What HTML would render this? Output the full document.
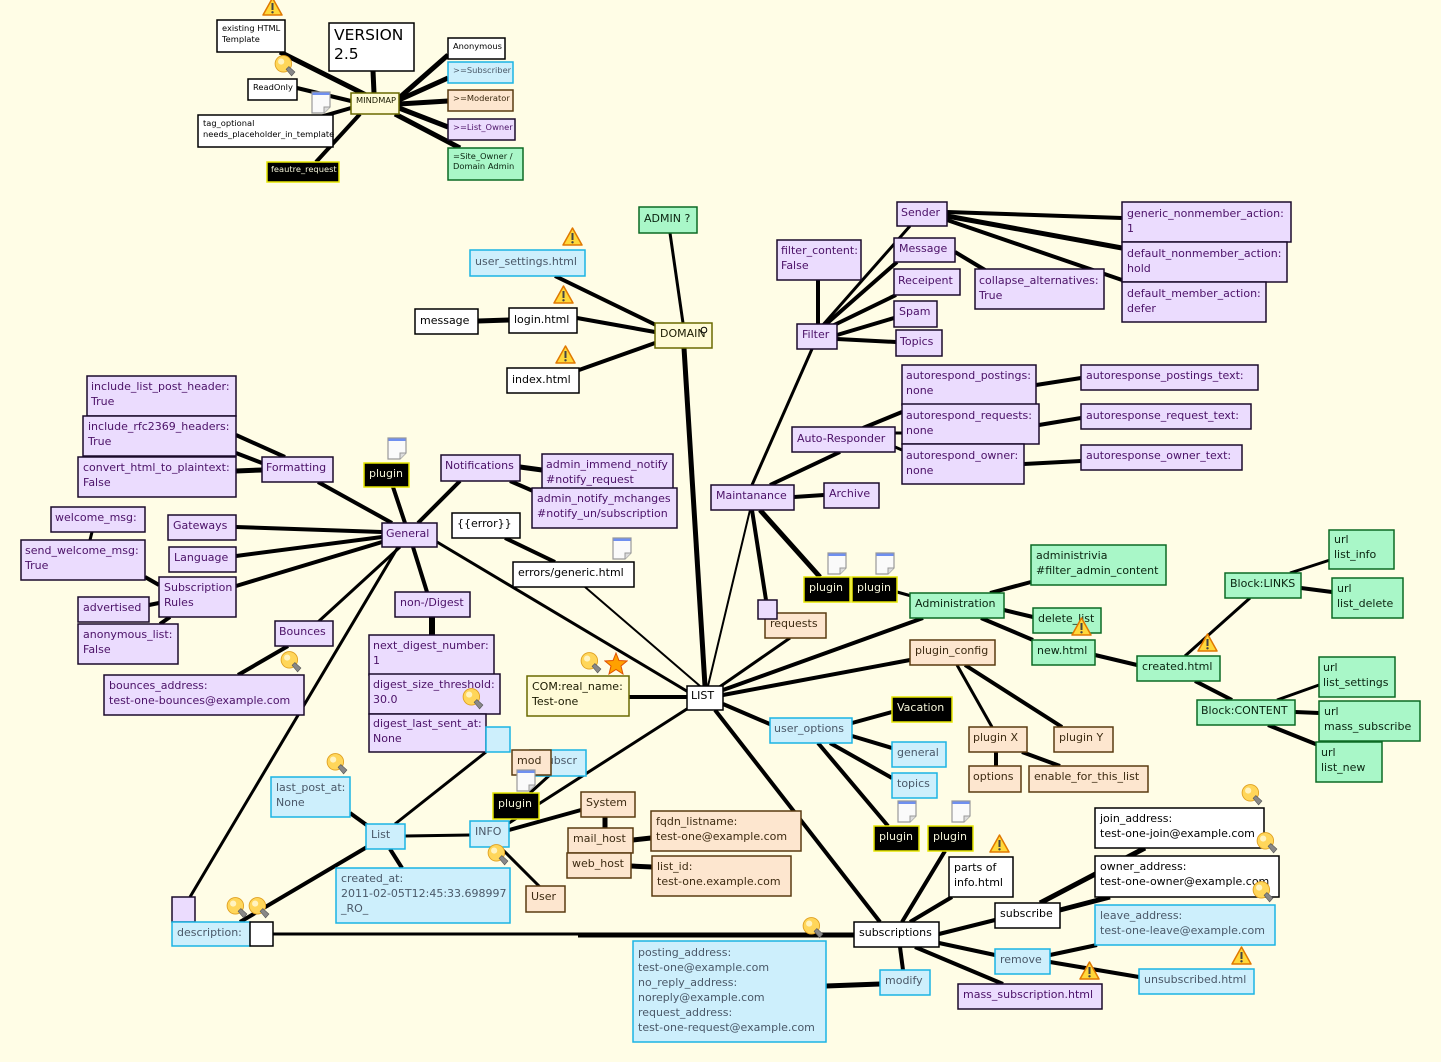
<!DOCTYPE html>
<html><head><meta charset="utf-8">
<style>
html,body{margin:0;padding:0;background:#fffde6;}
svg{display:block;}
text{font-family:"DejaVu Sans","Liberation Sans",sans-serif;font-size:11px;}
.s{font-size:8.3px;}
rect{stroke-width:1.5;}
.w{fill:#fff;stroke:#000;}
.p{fill:#ebdcfe;stroke:#1b0b2b;}
.c{fill:#cdeffc;stroke:#1bb4e4;}
.o{fill:#fde6cf;stroke:#5a3b10;}
.g{fill:#a9f7c8;stroke:#0c6a24;}
.y{fill:#fffbd7;stroke:#6a6a00;}
.b{fill:#000;stroke:#e6e600;}
.tw{fill:#000;}
.tp{fill:#4b1167;}
.tc{fill:#4a5868;}
.to{fill:#3d2b12;}
.tg{fill:#0a2410;}
.ty{fill:#1a1a00;}
.tb{fill:#f4f4d8;}
line{stroke:#000;stroke-linecap:butt;}
</style></head>
<body>
<svg width="1441" height="1062" viewBox="0 0 1441 1062" xmlns="http://www.w3.org/2000/svg">
<defs>
<symbol id="warn" viewBox="0 0 21 19"><polygon points="10.5,1 20,18 1,18" fill="#ffd83a" stroke="#e07800" stroke-width="1.5" stroke-linejoin="round"/><rect x="9.5" y="6" width="2" height="7" fill="#444"/><circle cx="10.5" cy="15.3" r="1.2" fill="#444"/></symbol>
<symbol id="bulb" viewBox="0 0 20 20"><ellipse cx="8.5" cy="8" rx="7.5" ry="7.5" fill="#ffd65a" stroke="#e0a020" stroke-width="0.8"/><circle cx="6.5" cy="6" r="2.8" fill="#fff3c0"/><polygon points="11,13 13.5,10.5 19,15.5 16,19" fill="#888" stroke="#555" stroke-width="0.6"/></symbol>
<symbol id="note" viewBox="0 0 20 23"><path d="M1,1 H19 V16 L13,22 H1 Z" fill="#fafafa" stroke="#999" stroke-width="1.2"/><rect x="1.5" y="1.5" width="17" height="2.5" fill="#6f8ff0"/><path d="M19,16 L13,16 L13,22" fill="#ddd" stroke="#999" stroke-width="1"/></symbol>
<symbol id="star" viewBox="0 0 24 23"><polygon points="12,1 15,8.5 23,9 17,14 19,22 12,17.5 5,22 7,14 1,9 9,8.5" fill="#ffa000" stroke="#e05000" stroke-width="1"/></symbol>
</defs>
<rect x="0" y="0" width="1441" height="1062" fill="#fffde6"/>

<!-- EDGES -->
<g>
<line x1="372" y1="98" x2="280" y2="52" stroke-width="5"/>
<line x1="374" y1="93" x2="373" y2="71" stroke-width="5"/>
<line x1="351" y1="101" x2="297" y2="88" stroke-width="4"/>
<line x1="351" y1="108" x2="320" y2="117" stroke-width="4"/>
<line x1="360" y1="114" x2="316" y2="162" stroke-width="4"/>
<line x1="399" y1="98" x2="448" y2="55" stroke-width="5"/>
<line x1="399" y1="100" x2="448" y2="78" stroke-width="5"/>
<line x1="399" y1="104" x2="448" y2="101" stroke-width="5"/>
<line x1="399" y1="108" x2="448" y2="127" stroke-width="5"/>
<line x1="395" y1="114" x2="460" y2="148" stroke-width="5"/>

<line x1="555" y1="276" x2="658" y2="326" stroke-width="4"/>
<line x1="478" y1="321" x2="509" y2="320" stroke-width="5"/>
<line x1="577" y1="318" x2="655" y2="332" stroke-width="4"/>
<line x1="579" y1="370" x2="655" y2="343" stroke-width="4"/>
<line x1="670" y1="233" x2="683" y2="323" stroke-width="3"/>
<line x1="684" y1="348" x2="705" y2="686" stroke-width="5"/>

<line x1="947" y1="212" x2="1122" y2="218" stroke-width="4"/>
<line x1="947" y1="216" x2="1122" y2="248" stroke-width="5"/>
<line x1="947" y1="220" x2="1122" y2="280" stroke-width="4"/>
<line x1="955" y1="252" x2="985" y2="270" stroke-width="4"/>
<line x1="818" y1="325" x2="818" y2="280" stroke-width="4"/>
<line x1="822" y1="326" x2="910" y2="226" stroke-width="3"/>
<line x1="824" y1="326" x2="897" y2="262" stroke-width="4"/>
<line x1="828" y1="328" x2="896" y2="295" stroke-width="4"/>
<line x1="837" y1="335" x2="894" y2="318" stroke-width="4"/>
<line x1="837" y1="339" x2="896" y2="342" stroke-width="4"/>
<line x1="812" y1="349" x2="752" y2="485" stroke-width="3"/>

<line x1="1036" y1="385" x2="1081" y2="378" stroke-width="4"/>
<line x1="1039" y1="425" x2="1081" y2="418" stroke-width="4"/>
<line x1="1024" y1="464" x2="1081" y2="461" stroke-width="4"/>
<line x1="863" y1="428" x2="902" y2="412" stroke-width="4"/>
<line x1="895" y1="433" x2="902" y2="433" stroke-width="3"/>
<line x1="895" y1="447" x2="902" y2="450" stroke-width="3"/>
<line x1="770" y1="485" x2="840" y2="452" stroke-width="4"/>
<line x1="794" y1="497" x2="824" y2="495" stroke-width="4"/>
<line x1="750" y1="510" x2="708" y2="686" stroke-width="2"/>
<line x1="752" y1="510" x2="766" y2="600" stroke-width="4"/>
<line x1="760" y1="510" x2="820" y2="577" stroke-width="5"/>

<line x1="790" y1="638" x2="718" y2="688" stroke-width="3"/>
<line x1="723" y1="690" x2="923" y2="618" stroke-width="4"/>
<line x1="723" y1="695" x2="910" y2="660" stroke-width="4"/>
<line x1="723" y1="704" x2="772" y2="725" stroke-width="4"/>
<line x1="715" y1="710" x2="880" y2="922" stroke-width="4"/>
<line x1="690" y1="707" x2="509" y2="823" stroke-width="3"/>
<line x1="687" y1="697" x2="629" y2="697" stroke-width="4"/>
<line x1="700" y1="686" x2="585" y2="587" stroke-width="2"/>
<line x1="690" y1="693" x2="437" y2="542" stroke-width="3"/>

<line x1="990" y1="593" x2="1031" y2="582" stroke-width="4"/>
<line x1="1004" y1="610" x2="1033" y2="617" stroke-width="4"/>
<line x1="981" y1="618" x2="1033" y2="640" stroke-width="4"/>
<line x1="897" y1="592" x2="915" y2="597" stroke-width="3"/>
<line x1="1095" y1="655" x2="1137" y2="665" stroke-width="4"/>
<line x1="1185" y1="656" x2="1250" y2="598" stroke-width="3"/>
<line x1="1195" y1="681" x2="1232" y2="700" stroke-width="4"/>
<line x1="1290" y1="573" x2="1330" y2="560" stroke-width="3"/>
<line x1="1301" y1="588" x2="1332" y2="592" stroke-width="4"/>
<line x1="1277" y1="700" x2="1319" y2="685" stroke-width="3"/>
<line x1="1295" y1="712" x2="1319" y2="713" stroke-width="4"/>
<line x1="1268" y1="725" x2="1318" y2="745" stroke-width="4"/>
<line x1="957" y1="665" x2="992" y2="727" stroke-width="3"/>
<line x1="965" y1="665" x2="1062" y2="727" stroke-width="4"/>
<line x1="996" y1="752" x2="996" y2="766" stroke-width="4"/>
<line x1="1022" y1="752" x2="1060" y2="766" stroke-width="4"/>
<line x1="852" y1="723" x2="892" y2="712" stroke-width="4"/>
<line x1="852" y1="736" x2="892" y2="748" stroke-width="4"/>
<line x1="830" y1="743" x2="892" y2="778" stroke-width="4"/>
<line x1="818" y1="743" x2="888" y2="826" stroke-width="4"/>

<line x1="939" y1="934" x2="995" y2="920" stroke-width="4"/>
<line x1="939" y1="943" x2="995" y2="955" stroke-width="4"/>
<line x1="915" y1="947" x2="1003" y2="984" stroke-width="4"/>
<line x1="900" y1="947" x2="903" y2="970" stroke-width="4"/>
<line x1="910" y1="922" x2="952" y2="897" stroke-width="4"/>
<line x1="902" y1="922" x2="945" y2="851" stroke-width="4"/>
<line x1="1040" y1="903" x2="1145" y2="848" stroke-width="5"/>
<line x1="1060" y1="910" x2="1110" y2="897" stroke-width="5"/>
<line x1="1050" y1="955" x2="1097" y2="945" stroke-width="4"/>
<line x1="1050" y1="962" x2="1139" y2="977" stroke-width="4"/>
<line x1="880" y1="984" x2="826" y2="986" stroke-width="5"/>
<line x1="273" y1="934" x2="855" y2="934" stroke-width="3"/>
<line x1="578" y1="935" x2="855" y2="935" stroke-width="5"/>

<line x1="392" y1="523" x2="318" y2="482" stroke-width="4"/>
<line x1="405" y1="523" x2="393" y2="487" stroke-width="4"/>
<line x1="418" y1="523" x2="460" y2="481" stroke-width="4"/>
<line x1="382" y1="532" x2="236" y2="527" stroke-width="4"/>
<line x1="382" y1="537" x2="236" y2="556" stroke-width="4"/>
<line x1="382" y1="542" x2="236" y2="586" stroke-width="4"/>
<line x1="400" y1="547" x2="318" y2="622" stroke-width="3"/>
<line x1="398" y1="547" x2="190" y2="897" stroke-width="3"/>
<line x1="413" y1="547" x2="427" y2="592" stroke-width="4"/>
<line x1="236" y1="435" x2="285" y2="457" stroke-width="4"/>
<line x1="236" y1="453" x2="262" y2="463" stroke-width="4"/>
<line x1="236" y1="471" x2="262" y2="470" stroke-width="5"/>
<line x1="520" y1="467" x2="542" y2="470" stroke-width="5"/>
<line x1="510" y1="481" x2="540" y2="494" stroke-width="4"/>
<line x1="505" y1="538" x2="555" y2="562" stroke-width="4"/>
<line x1="145" y1="577" x2="159" y2="585" stroke-width="4"/>
<line x1="92" y1="532" x2="90" y2="540" stroke-width="3"/>
<line x1="149" y1="605" x2="159" y2="603" stroke-width="4"/>
<line x1="160" y1="624" x2="170" y2="617" stroke-width="4"/>
<line x1="288" y1="646" x2="238" y2="675" stroke-width="4"/>
<line x1="432" y1="617" x2="432" y2="635" stroke-width="6"/>
<line x1="350" y1="813" x2="368" y2="826" stroke-width="4"/>
<line x1="390" y1="849" x2="402" y2="868" stroke-width="4"/>
<line x1="367" y1="847" x2="240" y2="922" stroke-width="4"/>
<line x1="405" y1="836" x2="470" y2="835" stroke-width="3"/>
<line x1="395" y1="824" x2="486" y2="752" stroke-width="3"/>
<line x1="509" y1="830" x2="581" y2="810" stroke-width="4"/>
<line x1="500" y1="847" x2="540" y2="887" stroke-width="3"/>
<line x1="530" y1="793" x2="552" y2="773" stroke-width="3"/>
<line x1="605" y1="817" x2="605" y2="828" stroke-width="5"/>
<line x1="633" y1="840" x2="651" y2="838" stroke-width="5"/>
<line x1="631" y1="866" x2="652" y2="867" stroke-width="5"/>
</g>

<!-- MINDMAP cluster -->
<rect class="w" x="217" y="20" width="68" height="32"/><text class="s tw" x="222" y="31">existing HTML<tspan x="222" dy="11">Template</tspan></text>
<rect class="w" x="329" y="23" width="85" height="48"/><text class="tw" x="334" y="40" style="font-size:15.5px">VERSION<tspan x="334" dy="19">2.5</tspan></text>
<rect class="w" x="248" y="79" width="49" height="21"/><text class="s tw" x="253" y="90">ReadOnly</text>
<rect class="y" x="351" y="93" width="48" height="21"/><text class="s ty" x="356" y="103">MINDMAP</text>
<rect class="w" x="198" y="115" width="135" height="32"/><text class="s tw" x="203" y="126">tag_optional<tspan x="203" dy="11">needs_placeholder_in_template</tspan></text>
<rect class="b" x="267" y="162" width="72" height="20"/><text class="s tb" x="271" y="172">feautre_request</text>
<rect class="w" x="448" y="38" width="57" height="21"/><text class="s tw" x="453" y="49">Anonymous</text>
<rect class="c" x="448" y="62" width="65" height="21"/><text class="s tc" x="453" y="73">&gt;=Subscriber</text>
<rect class="o" x="448" y="90" width="65" height="21"/><text class="s to" x="453" y="101">&gt;=Moderator</text>
<rect class="p" x="448" y="119" width="67" height="21"/><text class="s tp" x="453" y="130">&gt;=List_Owner</text>
<rect class="g" x="448" y="148" width="75" height="32"/><text class="s tg" x="453" y="159">=Site_Owner /<tspan x="453" dy="10">Domain Admin</tspan></text>

<!-- DOMAIN -->
<rect class="g" x="639" y="207" width="58" height="26"/><text class="tg" x="644" y="222">ADMIN ?</text>
<rect class="c" x="470" y="250" width="115" height="26"/><text class="tc" x="475" y="265">user_settings.html</text>
<rect class="w" x="415" y="309" width="63" height="25"/><text class="tw" x="420" y="324">message</text>
<rect class="w" x="509" y="308" width="68" height="25"/><text class="tw" x="514" y="323">login.html</text>
<rect class="y" x="655" y="323" width="57" height="25"/><text class="ty" x="660" y="337">DOMAIN</text><circle cx="704" cy="330" r="2.8" fill="#fffbd7" stroke="#000" stroke-width="1"/>
<rect class="w" x="507" y="368" width="72" height="25"/><text class="tw" x="512" y="383">index.html</text>

<!-- FILTER -->
<rect class="p" x="897" y="202" width="50" height="24"/><text class="tp" x="901" y="216">Sender</text>
<rect class="p" x="1122" y="202" width="169" height="40"/><text class="tp" x="1127" y="217">generic_nonmember_action:<tspan x="1127" dy="15">1</tspan></text>
<rect class="p" x="1122" y="242" width="165" height="40"/><text class="tp" x="1127" y="257">default_nonmember_action:<tspan x="1127" dy="15">hold</tspan></text>
<rect class="p" x="1122" y="282" width="144" height="40"/><text class="tp" x="1127" y="297">default_member_action:<tspan x="1127" dy="15">defer</tspan></text>
<rect class="p" x="777" y="240" width="84" height="40"/><text class="tp" x="781" y="254">filter_content:<tspan x="781" dy="15">False</tspan></text>
<rect class="p" x="894" y="238" width="61" height="24"/><text class="tp" x="899" y="252">Message</text>
<rect class="p" x="894" y="269" width="66" height="26"/><text class="tp" x="898" y="284">Receipent</text>
<rect class="p" x="975" y="269" width="129" height="40"/><text class="tp" x="979" y="284">collapse_alternatives:<tspan x="979" dy="15">True</tspan></text>
<rect class="p" x="894" y="301" width="43" height="26"/><text class="tp" x="899" y="315">Spam</text>
<rect class="p" x="896" y="330" width="46" height="26"/><text class="tp" x="900" y="345">Topics</text>
<rect class="p" x="797" y="324" width="40" height="25"/><text class="tp" x="802" y="338">Filter</text>

<!-- AUTORESPONDER -->
<rect class="p" x="902" y="365" width="134" height="40"/><text class="tp" x="906" y="379">autorespond_postings:<tspan x="906" dy="15">none</tspan></text>
<rect class="p" x="1081" y="365" width="177" height="25"/><text class="tp" x="1086" y="379">autoresponse_postings_text:</text>
<rect class="p" x="902" y="404" width="137" height="40"/><text class="tp" x="906" y="419">autorespond_requests:<tspan x="906" dy="15">none</tspan></text>
<rect class="p" x="1081" y="404" width="170" height="25"/><text class="tp" x="1086" y="419">autoresponse_request_text:</text>
<rect class="p" x="792" y="427" width="103" height="25"/><text class="tp" x="797" y="442">Auto-Responder</text>
<rect class="p" x="902" y="444" width="122" height="40"/><text class="tp" x="906" y="459">autorespond_owner:<tspan x="906" dy="15">none</tspan></text>
<rect class="p" x="1081" y="445" width="161" height="25"/><text class="tp" x="1086" y="459">autoresponse_owner_text:</text>
<rect class="p" x="711" y="485" width="83" height="25"/><text class="tp" x="716" y="499">Maintanance</text>
<rect class="p" x="824" y="483" width="55" height="25"/><text class="tp" x="829" y="497">Archive</text>

<!-- LEFT -->
<rect class="p" x="87" y="376" width="149" height="40"/><text class="tp" x="91" y="390">include_list_post_header:<tspan x="91" dy="15">True</tspan></text>
<rect class="p" x="83" y="416" width="153" height="40"/><text class="tp" x="88" y="430">include_rfc2369_headers:<tspan x="88" dy="15">True</tspan></text>
<rect class="p" x="78" y="457" width="158" height="40"/><text class="tp" x="83" y="471">convert_html_to_plaintext:<tspan x="83" dy="15">False</tspan></text>
<rect class="p" x="262" y="457" width="71" height="25"/><text class="tp" x="266" y="471">Formatting</text>
<rect class="b" x="364" y="463" width="45" height="24"/><text class="tb" x="369" y="477">plugin</text>
<rect class="p" x="441" y="455" width="79" height="26"/><text class="tp" x="445" y="469">Notifications</text>
<rect class="p" x="542" y="454" width="131" height="40"/><text class="tp" x="546" y="468">admin_immend_notify<tspan x="546" dy="15">#notify_request</tspan></text>
<rect class="p" x="532" y="488" width="145" height="40"/><text class="tp" x="537" y="502">admin_notify_mchanges<tspan x="537" dy="15">#notify_un/subscription</tspan></text>
<rect class="w" x="452" y="513" width="68" height="25"/><text class="tw" x="457" y="527">{{error}}</text>
<rect class="p" x="51" y="507" width="94" height="25"/><text class="tp" x="55" y="521">welcome_msg:</text>
<rect class="p" x="168" y="515" width="68" height="25"/><text class="tp" x="173" y="529">Gateways</text>
<rect class="p" x="382" y="523" width="55" height="24"/><text class="tp" x="386" y="537">General</text>
<rect class="p" x="21" y="540" width="124" height="40"/><text class="tp" x="25" y="554">send_welcome_msg:<tspan x="25" dy="15">True</tspan></text>
<rect class="p" x="169" y="547" width="67" height="25"/><text class="tp" x="174" y="561">Language</text>
<rect class="p" x="159" y="577" width="77" height="40"/><text class="tp" x="164" y="591">Subscription<tspan x="164" dy="15">Rules</tspan></text>
<rect class="p" x="78" y="597" width="71" height="25"/><text class="tp" x="83" y="611">advertised</text>
<rect class="p" x="78" y="624" width="100" height="40"/><text class="tp" x="83" y="638">anonymous_list:<tspan x="83" dy="15">False</tspan></text>
<rect class="p" x="275" y="621" width="58" height="25"/><text class="tp" x="279" y="635">Bounces</text>
<rect class="p" x="395" y="592" width="75" height="25"/><text class="tp" x="400" y="606">non-/Digest</text>
<rect class="w" x="513" y="562" width="121" height="25"/><text class="tw" x="518" y="576">errors/generic.html</text>
<rect class="p" x="369" y="635" width="125" height="40"/><text class="tp" x="373" y="649">next_digest_number:<tspan x="373" dy="15">1</tspan></text>
<rect class="p" x="369" y="674" width="131" height="40"/><text class="tp" x="373" y="688">digest_size_threshold:<tspan x="373" dy="15">30.0</tspan></text>
<rect class="p" x="369" y="714" width="117" height="38"/><text class="tp" x="373" y="727">digest_last_sent_at:<tspan x="373" dy="15">None</tspan></text>
<rect class="c" x="486" y="727" width="24" height="25"/>
<rect class="p" x="104" y="675" width="200" height="40"/><text class="tp" x="109" y="689">bounces_address:<tspan x="109" dy="15">test-one-bounces@example.com</tspan></text>
<rect class="y" x="527" y="676" width="102" height="40"/><text class="ty" x="532" y="690">COM:real_name:<tspan x="532" dy="15">Test-one</tspan></text>
<rect class="w" x="687" y="686" width="36" height="24"/><text class="tw" x="691" y="699">LIST</text>
<rect class="c" x="271" y="777" width="79" height="40"/><text class="tc" x="276" y="791">last_post_at:<tspan x="276" dy="15">None</tspan></text>
<rect class="c" x="366" y="824" width="39" height="25"/><text class="tc" x="371" y="838">List</text>
<rect class="c" x="470" y="821" width="39" height="26"/><text class="tc" x="475" y="835">INFO</text>
<rect class="c" x="530" y="750" width="56" height="26"/><text class="tc" x="541" y="764">subscr</text>
<rect class="o" x="512" y="750" width="39" height="25"/><text class="to" x="517" y="764">mod</text>
<rect class="b" x="493" y="793" width="46" height="26"/><text class="tb" x="498" y="807">plugin</text>
<rect class="o" x="581" y="792" width="54" height="25"/><text class="to" x="586" y="806">System</text>
<rect class="o" x="568" y="828" width="65" height="25"/><text class="to" x="573" y="842">mail_host</text>
<rect class="o" x="567" y="853" width="64" height="25"/><text class="to" x="572" y="867">web_host</text>
<rect class="o" x="651" y="811" width="150" height="40"/><text class="to" x="656" y="825">fqdn_listname:<tspan x="656" dy="15">test-one@example.com</tspan></text>
<rect class="o" x="652" y="856" width="139" height="40"/><text class="to" x="657" y="870">list_id:<tspan x="657" dy="15">test-one.example.com</tspan></text>
<rect class="c" x="336" y="868" width="174" height="55"/><text class="tc" x="341" y="882">created_at:<tspan x="341" dy="15">2011-02-05T12:45:33.698997</tspan><tspan x="341" dy="15">_RO_</tspan></text>
<rect class="o" x="526" y="886" width="39" height="26"/><text class="to" x="531" y="900">User</text>
<rect class="p" x="172" y="897" width="23" height="25"/>
<rect class="c" x="172" y="922" width="78" height="24"/><text class="tc" x="177" y="936">description:</text>
<rect class="w" x="250" y="922" width="23" height="24"/>
<rect class="c" x="633" y="941" width="193" height="101"/><text class="tc" x="638" y="956">posting_address:<tspan x="638" dy="15">test-one@example.com</tspan><tspan x="638" dy="15">no_reply_address:</tspan><tspan x="638" dy="15">noreply@example.com</tspan><tspan x="638" dy="15">request_address:</tspan><tspan x="638" dy="15">test-one-request@example.com</tspan></text>

<!-- RIGHT -->
<rect class="b" x="804" y="577" width="46" height="25"/><text class="tb" x="809" y="591">plugin</text>
<rect class="b" x="852" y="577" width="45" height="25"/><text class="tb" x="857" y="591">plugin</text>
<rect class="o" x="765" y="613" width="61" height="25"/><text class="to" x="770" y="627">requests</text>
<rect class="p" x="758" y="600" width="19" height="19"/>
<rect class="g" x="1031" y="545" width="135" height="40"/><text class="tg" x="1036" y="559">administrivia<tspan x="1036" dy="15">#filter_admin_content</tspan></text>
<rect class="g" x="910" y="593" width="94" height="25"/><text class="tg" x="915" y="607">Administration</text>
<rect class="g" x="1033" y="608" width="68" height="25"/><text class="tg" x="1038" y="622">delete_list</text>
<rect class="g" x="1032" y="640" width="63" height="25"/><text class="tg" x="1037" y="654">new.html</text>
<rect class="o" x="910" y="640" width="85" height="25"/><text class="to" x="915" y="654">plugin_config</text>
<rect class="g" x="1137" y="656" width="83" height="25"/><text class="tg" x="1142" y="670">created.html</text>
<rect class="g" x="1225" y="573" width="76" height="25"/><text class="tg" x="1230" y="587">Block:LINKS</text>
<rect class="g" x="1329" y="530" width="65" height="39"/><text class="tg" x="1334" y="543">url<tspan x="1334" dy="15">list_info</tspan></text>
<rect class="g" x="1332" y="578" width="71" height="40"/><text class="tg" x="1337" y="592">url<tspan x="1337" dy="15">list_delete</tspan></text>
<rect class="g" x="1319" y="657" width="76" height="40"/><text class="tg" x="1323" y="671">url<tspan x="1323" dy="15">list_settings</tspan></text>
<rect class="g" x="1197" y="700" width="98" height="25"/><text class="tg" x="1201" y="714">Block:CONTENT</text>
<rect class="g" x="1319" y="701" width="101" height="40"/><text class="tg" x="1324" y="715">url<tspan x="1324" dy="15">mass_subscribe</tspan></text>
<rect class="g" x="1316" y="742" width="66" height="40"/><text class="tg" x="1321" y="756">url<tspan x="1321" dy="15">list_new</tspan></text>
<rect class="b" x="892" y="697" width="60" height="25"/><text class="tb" x="897" y="711">Vacation</text>
<rect class="c" x="770" y="718" width="82" height="25"/><text class="tc" x="774" y="732">user_options</text>
<rect class="c" x="892" y="742" width="54" height="25"/><text class="tc" x="897" y="756">general</text>
<rect class="c" x="892" y="773" width="45" height="25"/><text class="tc" x="897" y="787">topics</text>
<rect class="o" x="969" y="727" width="58" height="25"/><text class="to" x="973" y="741">plugin X</text>
<rect class="o" x="1054" y="727" width="59" height="25"/><text class="to" x="1059" y="741">plugin Y</text>
<rect class="o" x="969" y="766" width="52" height="26"/><text class="to" x="973" y="780">options</text>
<rect class="o" x="1029" y="766" width="119" height="26"/><text class="to" x="1034" y="780">enable_for_this_list</text>
<rect class="b" x="874" y="826" width="45" height="25"/><text class="tb" x="879" y="840">plugin</text>
<rect class="b" x="928" y="826" width="45" height="25"/><text class="tb" x="933" y="840">plugin</text>
<rect class="w" x="949" y="857" width="64" height="40"/><text class="tw" x="954" y="871">parts of<tspan x="954" dy="15">info.html</tspan></text>
<rect class="w" x="1095" y="808" width="169" height="40"/><text class="tw" x="1100" y="822">join_address:<tspan x="1100" dy="15">test-one-join@example.com</tspan></text>
<rect class="w" x="1095" y="856" width="184" height="41"/><text class="tw" x="1100" y="870">owner_address:<tspan x="1100" dy="15">test-one-owner@example.com</tspan></text>
<rect class="w" x="995" y="903" width="65" height="25"/><text class="tw" x="1000" y="917">subscribe</text>
<rect class="c" x="1095" y="905" width="180" height="40"/><text class="tc" x="1100" y="919">leave_address:<tspan x="1100" dy="15">test-one-leave@example.com</tspan></text>
<rect class="w" x="854" y="922" width="85" height="25"/><text class="tw" x="859" y="936">subscriptions</text>
<rect class="c" x="995" y="949" width="55" height="25"/><text class="tc" x="1000" y="963">remove</text>
<rect class="c" x="1139" y="969" width="115" height="25"/><text class="tc" x="1144" y="983">unsubscribed.html</text>
<rect class="c" x="880" y="970" width="50" height="25"/><text class="tc" x="885" y="984">modify</text>
<rect class="p" x="958" y="984" width="144" height="25"/><text class="tp" x="963" y="998">mass_subscription.html</text>

<!-- ICONS -->
<use href="#warn" x="262" y="-3" width="21" height="19"/>
<use href="#warn" x="562" y="227" width="21" height="19"/>
<use href="#warn" x="553" y="285" width="21" height="19"/>
<use href="#warn" x="555" y="345" width="21" height="19"/>
<use href="#warn" x="1071" y="617" width="21" height="19"/>
<use href="#warn" x="1197" y="633" width="21" height="19"/>
<use href="#warn" x="989" y="834" width="21" height="19"/>
<use href="#warn" x="1231" y="946" width="21" height="19"/>
<use href="#warn" x="1079" y="961" width="21" height="19"/>

<use href="#bulb" x="274" y="55" width="22" height="22"/>
<use href="#bulb" x="280" y="651" width="22" height="22"/>
<use href="#bulb" x="326" y="753" width="22" height="22"/>
<use href="#bulb" x="487" y="844" width="22" height="22"/>
<use href="#bulb" x="226" y="897" width="22" height="22"/>
<use href="#bulb" x="248" y="897" width="22" height="22"/>
<use href="#bulb" x="580" y="652" width="22" height="22"/>
<use href="#bulb" x="462" y="688" width="22" height="22"/>
<use href="#bulb" x="802" y="917" width="22" height="22"/>
<use href="#bulb" x="1241" y="784" width="22" height="22"/>
<use href="#bulb" x="1256" y="832" width="22" height="22"/>
<use href="#bulb" x="1252" y="881" width="22" height="22"/>

<use href="#note" x="311" y="91" width="20" height="23"/>
<use href="#note" x="387" y="437" width="20" height="23"/>
<use href="#note" x="612" y="537" width="20" height="23"/>
<use href="#note" x="827" y="552" width="20" height="23"/>
<use href="#note" x="875" y="552" width="20" height="23"/>
<use href="#note" x="516" y="769" width="20" height="23"/>
<use href="#note" x="897" y="800" width="20" height="23"/>
<use href="#note" x="951" y="800" width="20" height="23"/>

<use href="#star" x="604" y="652" width="24" height="23"/>
</svg>
</body></html>
